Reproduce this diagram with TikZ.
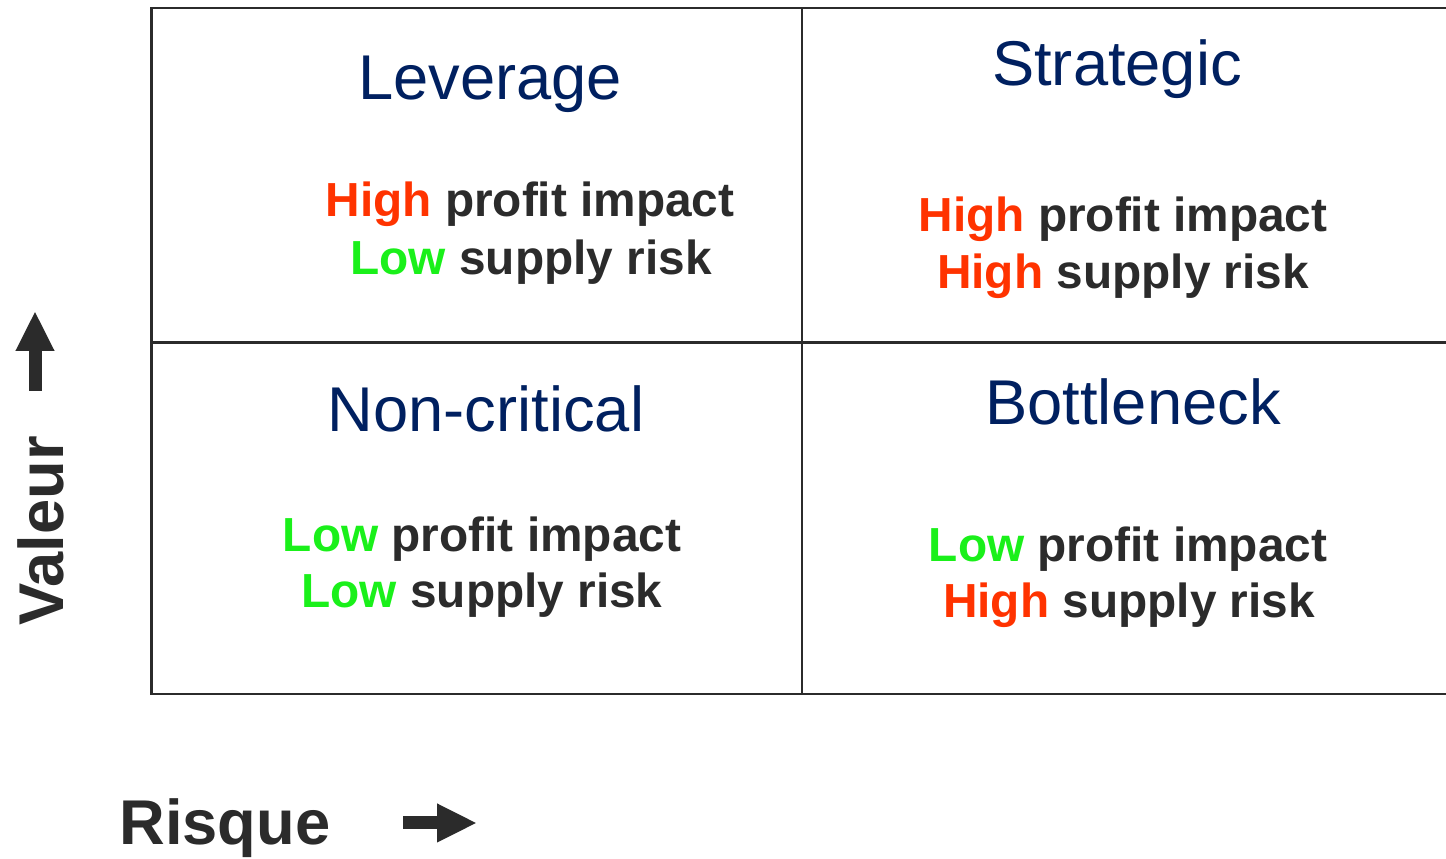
\documentclass[tikz,border=0pt]{standalone}
\usepackage{fontspec}
\setmainfont{Liberation Sans}
\usepackage{xcolor}
\usetikzlibrary{arrows.meta}

\definecolor{navy}{HTML}{002060}
\definecolor{ink}{HTML}{2B2B2B}
\definecolor{hired}{HTML}{FF3300}
\definecolor{logreen}{HTML}{1AF01A}

\newcommand{\HighTag}{\textcolor{hired}{High}}
\newcommand{\LowTag}{\textcolor{logreen}{Low}}

\tikzset{
    gridline/.style={ink, line width=1.5pt},
    quadtitle/.style={text=navy, anchor=base, inner sep=0pt, font=\fontsize{36}{40}\selectfont},
    quadline/.style={text=ink, anchor=base, inner sep=0pt, font=\bfseries\fontsize{27.2}{30}\selectfont},
    axislabel/.style={text=ink, anchor=base, inner sep=0pt, font=\bfseries\fontsize{36}{40}\selectfont},
    axisarrow/.style={ink, line width=0.26cm, -{Triangle[length=0.8cm, width=0.72cm]}}
}

\begin{document}
\begin{tikzpicture}
            \useasboundingbox (0,0) rectangle (28.92,17.18);
            % grid
            \draw [gridline] (28.92,17.02) -- (3.03,17.02) -- (3.03,3.30) -- (28.92,3.30);
            \draw [gridline] (3.03,10.33) -- (28.92,10.33);
            \draw [gridline] (16.04,17.02) -- (16.04,3.30);
            % quadrant titles
            \node [quadtitle] (leverage) at (9.80,15.18) {Leverage};
            \node [quadtitle] (strategic) at (22.34,15.46) {Strategic};
            \node [quadtitle] (noncritical) at (9.72,8.54) {Non-critical};
            \node [quadtitle] (bottleneck) at (22.66,8.68) {Bottleneck};
            % quadrant texts
            \node [quadline] (levprofit) at (10.60,12.84) {\HighTag{} profit impact};
            \node [quadline] (levrisk) at (10.62,11.68) {\LowTag{} supply risk};
            \node [quadline] (strprofit) at (22.46,12.54) {\HighTag{} profit impact};
            \node [quadline] (strrisk) at (22.46,11.40) {\HighTag{} supply risk};
            \node [quadline] (ncprofit) at (9.64,6.14) {\LowTag{} profit impact};
            \node [quadline] (ncrisk) at (9.64,5.02) {\LowTag{} supply risk};
            \node [quadline] (bnprofit) at (22.56,5.94) {\LowTag{} profit impact};
            \node [quadline] (bnrisk) at (22.58,4.82) {\HighTag{} supply risk};
            % axes
            \node [axislabel, rotate=90] (valeur) at (1.26,6.56) {Valeur};
            \node [axislabel] (risque) at (4.50,0.28) {Risque};
            \coordinate (upfrom) at (0.70,9.36);
            \coordinate (upto) at (0.70,10.96);
            \coordinate (rightfrom) at (8.06,0.72);
            \coordinate (rightto) at (9.54,0.72);
            \draw [axisarrow] (upfrom) -- (upto);
            \draw [axisarrow] (rightfrom) -- (rightto);
        \end{tikzpicture}
\end{document}
